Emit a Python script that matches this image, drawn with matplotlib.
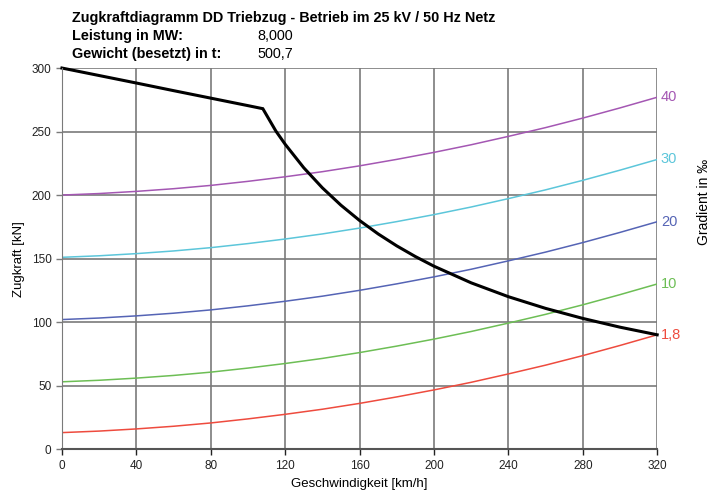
import matplotlib
matplotlib.use("Agg")
import matplotlib.pyplot as plt
import numpy as np

plt.rcParams['font.family'] = ['Liberation Sans', 'DejaVu Sans']

# Zugkraft-Kennlinie (km/h, kN)
v_zug = [0, 20, 40, 60, 80, 100, 108, 115, 120, 130, 140, 150, 160, 170, 180,
         190, 200, 220, 240, 260, 280, 300, 320]
f_zug = [300, 294.1, 288.2, 282.2, 276.3, 270.4, 268, 250.4, 240, 221.5, 205.7, 192,
         180, 169.4, 160, 151.6, 144, 130.9, 120, 110.8, 102.9, 96, 90]

# Fahrwiderstand bei verschiedenen Steigungen (km/h, kN)
v_w = [0, 20, 40, 60, 80, 100, 120, 140, 160, 180, 200, 220, 240, 260, 280, 300, 320]
w_1_8 = [13, 14.2, 15.9, 18, 20.6, 23.8, 27.4, 31.4, 36, 41.1, 46.6, 52.6, 59.2,
         66.1, 73.6, 81.6, 90]
w_10 = [53, 54.2, 55.9, 58, 60.6, 63.8, 67.4, 71.4, 76, 81.1, 86.6, 92.6, 99.2,
        106.1, 113.6, 121.6, 130]
w_20 = [102, 103.2, 104.9, 107, 109.6, 112.8, 116.4, 120.4, 125, 130.1, 135.6,
        141.6, 148.2, 155.1, 162.6, 170.6, 179]
w_30 = [151, 152.2, 153.9, 156, 158.6, 161.8, 165.4, 169.4, 174, 179.1, 184.6,
        190.6, 197.2, 204.1, 211.6, 219.6, 228]
w_40 = [200, 201.2, 202.9, 205, 207.6, 210.8, 214.4, 218.4, 223, 228.1, 233.6,
        239.6, 246.2, 253.1, 260.6, 268.6, 277]

gradients = ["1,8", "10", "20", "30", "40"]
colors = ["#EE4B3E", "#6DBE55", "#5564B5", "#5CC6DA", "#A457B3"]

fig = plt.figure(figsize=(7.12, 4.93), dpi=100)
ax = fig.add_axes([0.087, 0.089, 0.836, 0.773])

ax.set_xlim(0, 320)
ax.set_ylim(0, 300)
ax.set_xticks(range(0, 321, 40))
ax.set_yticks(range(0, 301, 50))
ax.grid(True, color='#7a7a7a', linewidth=1.2)
ax.set_axisbelow(True)

for sp in ['top', 'right']:
    ax.spines[sp].set_visible(False)
ax.spines['left'].set_color('#7a7a7a')
ax.spines['bottom'].set_color('#555555')
ax.spines['bottom'].set_linewidth(1.5)
ax.tick_params(axis='both', labelsize=8.5, colors='#222222', length=4, width=1)
ax.tick_params(axis='y', color='#7a7a7a')

for w, lab, c in zip([w_1_8, w_10, w_20, w_30, w_40], gradients, colors):
    ax.plot(v_w, w, color=c, linewidth=1.1)
    ax.text(322, w[-1], lab, color=c, fontsize=10.5, va='center', ha='left',
            clip_on=False)

ax.plot(v_zug, f_zug, color='black', linewidth=2.2, solid_joinstyle='miter',
        clip_on=False)

ax.set_xlabel("Geschwindigkeit [km/h]", fontsize=9.5, labelpad=5)
ax.set_ylabel("Zugkraft [kN]", fontsize=9.5, labelpad=5)
fig.text(0.999, 0.59, "Gradient in \u2030", rotation=90, fontsize=10,
         ha='right', va='center')

fs = 10.4
fig.text(0.101, 0.963, "Zugkraftdiagramm DD Triebzug - Betrieb im 25 kV / 50 Hz Netz",
         fontsize=fs, fontweight='bold', va='center')
fig.text(0.101, 0.927, "Leistung in MW:", fontsize=fs, fontweight='bold', va='center')
fig.text(0.362, 0.927, "8,000", fontsize=fs, va='center')
fig.text(0.101, 0.891, "Gewicht (besetzt) in t:", fontsize=fs, fontweight='bold', va='center')
fig.text(0.362, 0.891, "500,7", fontsize=fs, va='center')

fig.savefig("out.png", dpi=100)
